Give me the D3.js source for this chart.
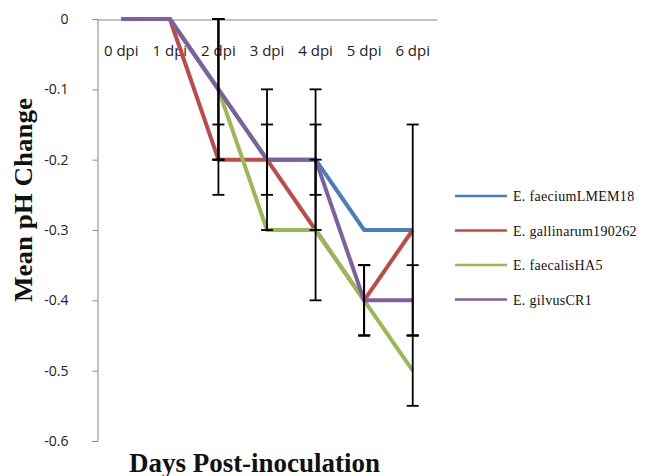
<!DOCTYPE html>
<html>
<head>
<meta charset="utf-8">
<script src="https://cdn.jsdelivr.net/npm/d3@7"></script>
<style>
    body { margin: 0; background: #fff; }
    .tick-y { font-family: "Open Sans", sans-serif; font-size: 14px; fill: #222; }
    .tick-x { font-family: "Open Sans", sans-serif; font-size: 15px; fill: #222; }
    .legend text { font-family: "Liberation Serif", serif; font-size: 14px; fill: #111; }
    .title { font-family: "Liberation Serif", serif; font-weight: bold; fill: #111; }
</style>
</head>
<body>
<div class="panel"></div>
<script>

// Data ///////////////////////////////////////

const days = ["0 dpi", "1 dpi", "2 dpi", "3 dpi", "4 dpi", "5 dpi", "6 dpi"];
const yTicks = [0, -0.1, -0.2, -0.3, -0.4, -0.5, -0.6];

const seriesNames = ["E. faeciumLMEM18", "E. gallinarum190262", "E. faecalisHA5", "E. gilvusCR1"];
const seriesColors = ["#4A7EBB", "#BE4B48", "#98B954", "#7D60A0"];

const faecium    = [0, 0, -0.1, -0.2, -0.2, -0.3, -0.3];
const gallinarum = [0, 0, -0.2, -0.2, -0.3, -0.4, -0.3];
const faecalis   = [0, 0, -0.1, -0.3, -0.3, -0.4, -0.5];
const gilvus     = [0, 0, -0.1, -0.2, -0.2, -0.4, -0.4];

// symmetric error (+/-)
const faeciumErr    = [0, 0, 0.1, 0.1, 0.05, 0, 0.15];
const gallinarumErr = [0, 0, 0.05, 0.05, 0.1, 0.05, 0];
const faecalisErr   = [0, 0, 0.1, 0, 0, 0.05, 0.05];
const gilvusErr     = [0, 0, 0.1, 0, 0.1, 0.05, 0.05];

const values = [faecium, gallinarum, faecalis, gilvus];
const errors = [faeciumErr, gallinarumErr, faecalisErr, gilvusErr];

// Chart //////////////////////////////////////

const width = 653, height = 476;

const svg = d3.select(".panel").append("svg")
    .attr("width", width)
    .attr("height", height);

const x = d3.scaleBand()
    .domain(days)
    .range([97, 437]);

const y = d3.scaleLinear()
    .domain([0, -0.6])
    .range([19, 441]);

const cx = d => x(d) + x.bandwidth() / 2;

// Axes

const yAxis = svg.append("g")
    .attr("transform", "translate(97.5,0)")
    .call(d3.axisLeft(y).tickValues(yTicks).tickSize(5).tickPadding(24)
        .tickFormat(d => d === 0 ? "0" : d.toFixed(1)));

yAxis.select(".domain").attr("stroke", "#868686");
yAxis.selectAll(".tick line").attr("stroke", "#868686");
yAxis.selectAll(".tick text").attr("class", "tick-y").attr("font-family", null).attr("font-size", null);

const xAxis = svg.append("g")
    .attr("transform", "translate(0,19.5)")
    .call(d3.axisBottom(x).tickSize(0).tickPadding(26));

xAxis.select(".domain").attr("stroke", "#868686");
xAxis.selectAll(".tick text").attr("class", "tick-x").attr("font-family", null).attr("font-size", null);

// Lines

const line = d3.line()
    .x((d, i) => cx(days[i]))
    .y(d => y(d));

svg.append("g")
    .selectAll("path")
    .data(values)
    .join("path")
    .attr("d", line)
    .attr("fill", "none")
    .attr("stroke", (d, i) => seriesColors[i])
    .attr("stroke-width", 4)
    .attr("stroke-linejoin", "round");

// Error bars

const bars = [];
values.forEach((vals, s) => {
    vals.forEach((v, i) => {
        if (errors[s][i] > 0) bars.push({ day: days[i], v: v, e: errors[s][i] });
    });
});

const barG = svg.append("g")
    .attr("stroke", "#000")
    .attr("stroke-width", 1.8);

barG.selectAll(".bar")
    .data(bars)
    .join("line")
    .attr("x1", d => cx(d.day))
    .attr("x2", d => cx(d.day))
    .attr("y1", d => y(d.v + d.e))
    .attr("y2", d => y(d.v - d.e));

const caps = bars.flatMap(d => [{ day: d.day, v: d.v + d.e }, { day: d.day, v: d.v - d.e }]);

barG.selectAll(".cap")
    .data(caps)
    .join("line")
    .attr("x1", d => cx(d.day) - 6)
    .attr("x2", d => cx(d.day) + 6)
    .attr("y1", d => y(d.v))
    .attr("y2", d => y(d.v));

// Legend

const legend = svg.append("g")
    .attr("class", "legend")
    .attr("transform", "translate(455,196)");

const item = legend.selectAll("g")
    .data(seriesNames)
    .join("g")
    .attr("transform", (d, i) => `translate(0,${ i * 34.5 })`);

item.append("line")
    .attr("x1", 0)
    .attr("x2", 52)
    .attr("stroke", (d, i) => seriesColors[i])
    .attr("stroke-width", 2.5);

item.append("text")
    .attr("x", 58)
    .attr("y", 5)
    .attr("letter-spacing", 0.3)
    .text(d => d);

// Titles

svg.append("text")
    .attr("class", "title")
    .attr("font-size", 25)
    .attr("text-anchor", "middle")
    .attr("transform", "translate(32,200) rotate(-90)")
    .attr("textLength", 204)
    .attr("lengthAdjust", "spacingAndGlyphs")
    .text("Mean pH Change");

svg.append("text")
    .attr("class", "title")
    .attr("font-size", 27)
    .attr("x", 129)
    .attr("y", 472)
    .attr("textLength", 251)
    .attr("lengthAdjust", "spacingAndGlyphs")
    .text("Days Post-inoculation");

</script>
</body>
</html>
